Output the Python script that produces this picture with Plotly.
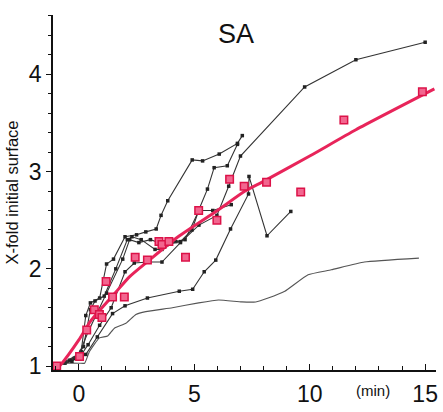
import plotly.graph_objects as go

# ---- data (min, x-fold initial surface) ----
s0_x = [-1.0, -0.5, 0.03, 0.25, 0.46, 0.89, 1.25, 1.54, 2.04, 2.47, 2.9, 4.05, 5.19, 6.05, 7.06, 7.66, 8.2, 8.92, 9.93, 10.93, 12.37, 14.73]
s0_y = [1.02, 1.03, 1.03, 1.03, 1.15, 1.29, 1.31, 1.39, 1.44, 1.53, 1.56, 1.6, 1.65, 1.68, 1.66, 1.66, 1.70, 1.77, 1.94, 1.99, 2.07, 2.11]

s1_x = [-1.0, -0.6, 0.0, 0.4, 0.9, 1.4, 2.0, 2.4, 3.0, 3.6, 4.4, 5.2, 5.98, 6.49, 7.0, 9.78, 12.0, 15.0]
s1_y = [1.0, 1.03, 1.08, 1.22, 1.42, 1.6, 1.97, 2.06, 2.07, 2.07, 2.27, 2.45, 2.55, 2.85, 3.16, 3.87, 4.15, 4.33]

s2_x = [-1.0, -0.2, 0.3, 0.8, 1.46, 2.0, 2.97, 4.35, 4.93, 5.43, 5.93, 6.57, 7.35, 7.37, 8.15, 9.18]
s2_y = [1.0, 1.08, 1.12, 1.3, 1.54, 1.62, 1.70, 1.77, 1.79, 1.97, 2.09, 2.41, 2.77, 2.95, 2.34, 2.59]

s3_x = [-1.0, -0.4, 0.1, 0.3, 0.5, 0.9, 1.2, 1.5, 2.0, 2.5, 2.9, 3.35, 3.56, 3.85, 4.91, 5.36, 6.08, 6.87, 7.08]
s3_y = [1.0, 1.06, 1.15, 1.52, 1.65, 1.70, 2.05, 2.10, 2.33, 2.35, 2.38, 2.41, 2.55, 2.70, 3.12, 3.11, 3.18, 3.29, 3.37]

s4_x = [-1.0, -0.3, 0.2, 0.5, 0.7, 1.1, 1.6, 2.1, 2.3, 2.7, 3.3, 3.6, 4.2, 4.6, 5.2, 5.8, 6.6]
s4_y = [1.0, 1.05, 1.2, 1.58, 1.67, 1.72, 2.0, 2.3, 2.33, 2.3, 2.2, 2.2, 2.28, 2.3, 2.6, 2.6, 2.66]

s5_x = [-1.0, 0.0, 0.4, 0.8, 1.2, 1.9, 2.2, 2.6, 3.1, 3.7, 4.4, 4.9, 5.22, 5.57, 5.86, 6.43, 6.87]
s5_y = [1.0, 1.12, 1.35, 1.55, 1.75, 2.1, 2.3, 2.27, 2.3, 2.25, 2.28, 2.4, 2.62, 2.82, 3.04, 3.06, 3.28]

red_x = [-0.96, 0.03, 0.34, 0.67, 0.89, 1.0, 1.18, 1.46, 1.97, 2.44, 2.97, 3.47, 3.6, 3.9, 4.62, 5.19, 5.98, 6.53, 7.16, 8.13, 9.61, 11.48, 14.88]
red_y = [1.0, 1.10, 1.37, 1.58, 1.53, 1.50, 1.87, 1.71, 1.71, 2.12, 2.09, 2.28, 2.25, 2.28, 2.12, 2.6, 2.50, 2.92, 2.85, 2.89, 2.79, 3.53, 3.82]

fit_x = [-1.05, -0.8, 0.0, 0.5, 1.0, 1.6, 2.2, 3.0, 4.3, 6.0, 7.2, 8.0, 10.0, 12.0, 15.4]
fit_y = [0.95, 1.01, 1.27, 1.46, 1.6, 1.76, 1.92, 2.08, 2.33, 2.6, 2.8, 2.9, 3.16, 3.43, 3.85]

x_ticks = [0, 5, 10, 15]
y_ticks = [1, 2, 3, 4]

fig = go.Figure()

fig.add_trace(go.Scatter(x=s0_x, y=s0_y, mode="lines",
                         line=dict(color="#555555", width=1.1, shape="spline", smoothing=0.4)))
black_series = [(s1_x, s1_y), (s2_x, s2_y), (s3_x, s3_y), (s4_x, s4_y), (s5_x, s5_y)]
for sx, sy in black_series:
    fig.add_trace(go.Scatter(x=sx, y=sy, mode="lines+markers",
                             line=dict(color="#333333", width=1.1),
                             marker=dict(symbol="square", size=3.5, color="#222222")))

fig.add_trace(go.Scatter(x=fit_x, y=fit_y, mode="lines",
                         line=dict(color="#e8245a", width=3, shape="spline", smoothing=0.6)))
fig.add_trace(go.Scatter(x=red_x, y=red_y, mode="markers",
                         marker=dict(symbol="square", size=7.5, color="#f2668f",
                                     line=dict(color="#dc1248", width=1.5))))

font_main = "Liberation Sans, Arial, sans-serif"
font_narrow = "Liberation Sans Narrow, Liberation Sans, Arial, sans-serif"

fig.update_layout(
    width=443, height=412,
    margin=dict(l=53, r=5, t=15, b=40),
    paper_bgcolor="white", plot_bgcolor="white",
    showlegend=False,
    font=dict(family=font_main, color="#111111"),
    xaxis=dict(range=[-1.12, 15.47], tickvals=x_ticks, ticktext=[str(v) for v in x_ticks],
               showgrid=False, zeroline=False, showline=True, linecolor="#111111", linewidth=1.6,
               ticks="inside", ticklen=6, tickwidth=1.3, tickcolor="#111111",
               tickfont=dict(size=23, family=font_main, color="#111111"),
               ticklabelstandoff=3,
               minor=dict(dtick=1, tick0=0, ticks="inside", ticklen=4, tickcolor="#111111", tickwidth=1.1),
               fixedrange=True),
    yaxis=dict(range=[0.96, 4.61], tickvals=y_ticks, ticktext=[str(v) for v in y_ticks],
               showgrid=False, zeroline=False, showline=True, linecolor="#111111", linewidth=1.6,
               ticks="outside", ticklen=5, tickwidth=1.3, tickcolor="#111111",
               tickfont=dict(size=23, family=font_main, color="#111111"),
               minor=dict(dtick=0.2, tick0=1, ticks="outside", ticklen=3, tickcolor="#111111", tickwidth=1.1),
               title=dict(text="X-fold initial surface", font=dict(size=16.5, family=font_main, color="#111111"),
                          standoff=6),
               fixedrange=True),
)

# annotation positions given in pixels, converted to paper coordinates
pw = 443 - 53 - 5
ph = 412 - 15 - 40
labels = [("SA", 237, 34, 27, font_narrow), ("(min)", 375, 393, 15, font_narrow)]
for text, px, py, size, fam in labels:
    fig.add_annotation(text=text, showarrow=False, xref="paper", yref="paper",
                       x=(px - 53) / pw, y=1 - (py - 15) / ph,
                       xanchor="center", yanchor="middle",
                       font=dict(size=size, family=fam, color="#111111"))

fig.write_html("out.html")
